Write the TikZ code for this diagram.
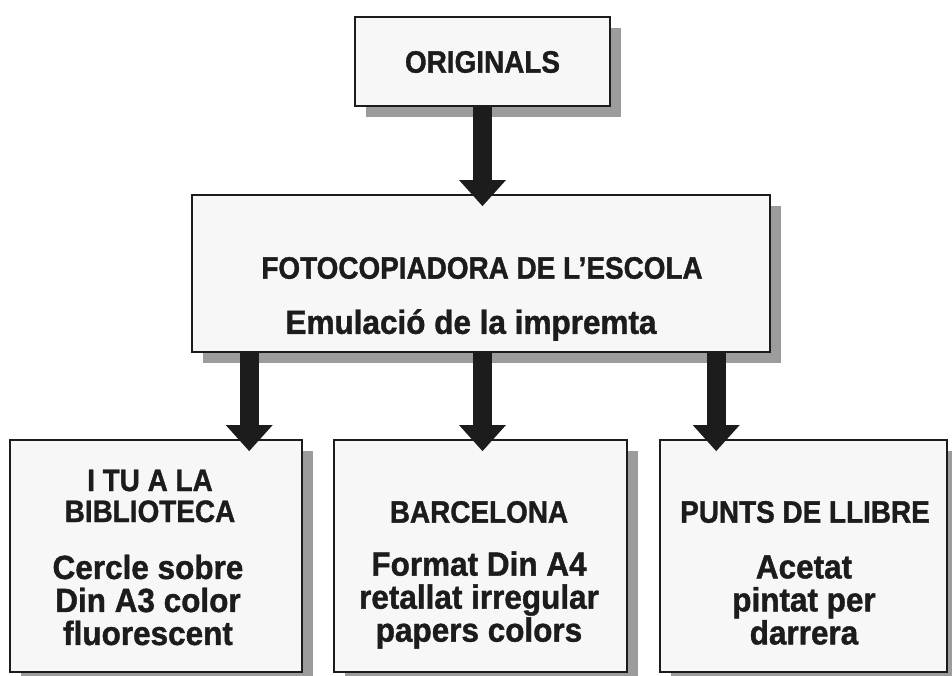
\documentclass[tikz,border=0pt]{standalone}
\usepackage{fontspec}
\setmainfont{Liberation Sans}
\newfontfamily\hfont[FakeStretch=0.9,FakeBold=1.2]{Liberation Sans}
\newfontfamily\bfont[FakeStretch=0.94,FakeBold=1.2]{Liberation Sans}
\usetikzlibrary{arrows.meta,shadows}
\definecolor{ink}{HTML}{1C1C1C}
\definecolor{shade}{HTML}{9C9C9C}
\definecolor{boxfill}{HTML}{F7F7F7}
\begin{document}
\begin{tikzpicture}[x=1pt,y=-1pt,
  box/.style={draw=ink, line width=1.6pt, fill=boxfill, rectangle, inner sep=0pt,
    drop shadow={shadow xshift=11pt, shadow yshift=-11pt, fill=shade, opacity=1}},
  title/.style={font=\hfont\bfseries\fontsize{31}{31}\selectfont, text=ink, align=center, inner sep=0pt},
  body/.style={font=\bfont\bfseries\fontsize{33.5}{33}\selectfont, text=ink, align=center, inner sep=0pt},
  bigarrow/.style={draw=ink, line width=19pt, -{Triangle[width=45pt,length=26pt]}, shorten >=-12pt}
]
\useasboundingbox (0,0) rectangle (952,675);
\clip (0,0) rectangle (952,675);
\fill[white] (0,0) rectangle (952,675);

% boxes
\node[box, minimum width=255pt, minimum height=89pt] (orig) at (482.5,61.5) {};
\node[box, minimum width=578pt, minimum height=157pt] (foto) at (481,273.5) {};
\node[box, minimum width=292pt, minimum height=232pt] (lbox) at (156,556) {};
\node[box, minimum width=293pt, minimum height=232pt] (mbox) at (480.5,556) {};
\node[box, minimum width=287pt, minimum height=232pt] (rbox) at (803.5,556) {};

% texts
\node[title] (t0) at (482.5,62) {ORIGINALS};
\node[title] (t1) at (482,268) {FOTOCOPIADORA DE L’ESCOLA};
\node[body] (b1) at (471,325) {Emulació de la impremta};

\node[title] (tl) at (150,496) {I TU A LA\\BIBLIOTECA};
\node[body] (bl) at (148,600) {Cercle sobre\\Din A3 color\\fluorescent};

\node[title] (tm) at (479,512) {BARCELONA};
\node[body] (bm) at (479,600) {Format Din A4\\retallat irregular\\papers colors};

\node[title] (tr) at (805,512) {PUNTS DE LLIBRE};
\node[body] (br) at (804,600) {Acetat\\pintat per\\darrera};

% arrows
\draw[bigarrow] (orig.south) -- ([xshift=1.5pt]foto.north);
\draw[bigarrow] ([xshift=58pt]foto.south west) -- ([xshift=240pt]lbox.north west);
\draw[bigarrow] ([xshift=1.5pt]foto.south) -- ([xshift=2pt]mbox.north);
\draw[bigarrow] ([xshift=525pt]foto.south west) -- ([xshift=57pt]rbox.north west);
\end{tikzpicture}
\end{document}
